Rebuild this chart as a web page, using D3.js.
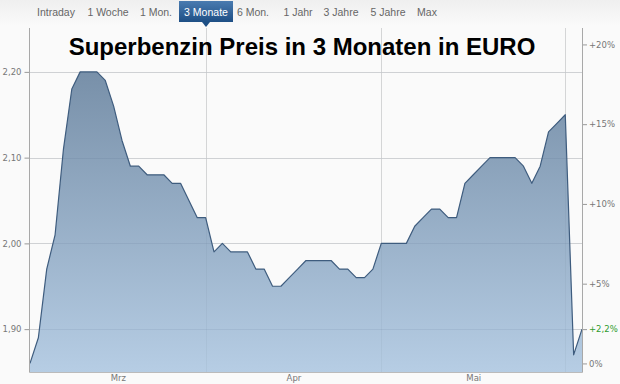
<!DOCTYPE html>
<html><head><meta charset="utf-8">
<script src="https://cdn.jsdelivr.net/npm/d3@7"></script>
<style>
html,body{margin:0;padding:0;background:#fff;}
svg{display:block;}
</style></head>
<body>
<svg id="chart" width="620" height="384"></svg>
<script>
// ---- data ----
const navItems = ["Intraday","1 Woche","1 Mon.","3 Monate","6 Mon.","1 Jahr","3 Jahre","5 Jahre","Max"];
const navActive = "3 Monate";
const prices = [1.86,1.89,1.97,2.01,2.11,2.18,2.20,2.20,2.20,2.19,2.16,2.12,2.09,2.09,2.08,2.08,2.08,2.07,2.07,2.05,2.03,2.03,1.99,2.00,1.99,1.99,1.99,1.97,1.97,1.95,1.95,1.96,1.97,1.98,1.98,1.98,1.98,1.97,1.97,1.96,1.96,1.97,2.00,2.00,2.00,2.00,2.02,2.03,2.04,2.04,2.03,2.03,2.07,2.08,2.09,2.10,2.10,2.10,2.10,2.09,2.07,2.09,2.13,2.14,2.15,1.87,1.90];
const leftTicks = [1.90, 2.00, 2.10, 2.20];
const pctTicks = [0, 5, 10, 15, 20];
const monthLabels = ["Mrz","Apr","Mai"];
const monthLabelPos = [10.5, 31.5, 53];   // index positions of labels
const monthGridPos = [21, 42, 64];        // index positions of month boundaries
const title = "Superbenzin Preis in 3 Monaten in EURO";

// ---- layout ----
const svg = d3.select("#chart");
const W = 620, H = 384;
const plot = {left: 29.5, right: 582, top: 28, bottom: 372};

const defs = svg.append("defs");
const bgGrad = defs.append("linearGradient").attr("id","navbg").attr("x1",0).attr("y1",0).attr("x2",0).attr("y2",1);
bgGrad.append("stop").attr("offset","0%").attr("stop-color","#efefef");
bgGrad.append("stop").attr("offset","100%").attr("stop-color","#fafafa");
const btnGrad = defs.append("linearGradient").attr("id","btn").attr("x1",0).attr("y1",0).attr("x2",0).attr("y2",1);
btnGrad.append("stop").attr("offset","0%").attr("stop-color","#4a7bb0");
btnGrad.append("stop").attr("offset","100%").attr("stop-color","#1e4f85");

svg.append("rect").attr("width",W).attr("height",H).attr("fill","#fafafa");
svg.append("rect").attr("width",W).attr("height",26).attr("fill","url(#navbg)");

// ---- scales ----
const x = d3.scaleLinear().domain([0, prices.length-1]).range([30, 582]);
const y = d3.scaleLinear().domain([1.85, 2.25]).range([plot.bottom, plot.top+1]);
const base = prices[0];
const yPct = d3.scaleLinear().domain([(1.85/base-1)*100, (2.25/base-1)*100]).range([plot.bottom, plot.top+1]);

const areaGrad = defs.append("linearGradient").attr("id","area")
  .attr("gradientUnits","userSpaceOnUse").attr("x1",0).attr("x2",0)
  .attr("y1", y(2.20)).attr("y2", plot.bottom);
areaGrad.append("stop").attr("offset","0%").attr("stop-color","#7890a9");
areaGrad.append("stop").attr("offset","100%").attr("stop-color","#b6cde4");

// ---- grid ----
const grid = svg.append("g");
grid.selectAll("line.h").data(leftTicks).join("line")
  .attr("x1", plot.left).attr("x2", plot.right)
  .attr("y1", d => Math.round(y(d))+0.5).attr("y2", d => Math.round(y(d))+0.5)
  .attr("stroke","#dedede");
grid.selectAll("line.v").data(monthGridPos).join("line")
  .attr("x1", d => Math.round(x(d))+0.5).attr("x2", d => Math.round(x(d))+0.5)
  .attr("y1", plot.top).attr("y2", plot.bottom)
  .attr("stroke","#dedede");

// ---- title ----
svg.append("text").attr("x", 302).attr("y", 55).attr("text-anchor","middle")
  .attr("font-family","Liberation Sans, Arial, sans-serif").attr("font-weight","bold")
  .attr("font-size", 24).attr("fill","#000").text(title);

// ---- area & line ----
const area = d3.area().x((d,i)=>x(i)).y0(plot.bottom).y1(d=>y(d));
const line = d3.line().x((d,i)=>x(i)).y(d=>y(d));
svg.append("path").datum(prices).attr("d", area).attr("fill","url(#area)");
// grid faintly visible through the fill
const grid2 = svg.append("g");
grid2.selectAll("line.h").data(leftTicks).join("line")
  .attr("x1", plot.left).attr("x2", plot.right)
  .attr("y1", d => Math.round(y(d))+0.5).attr("y2", d => Math.round(y(d))+0.5)
  .attr("stroke","rgba(60,80,110,0.09)");
grid2.selectAll("line.v").data(monthGridPos).join("line")
  .attr("x1", d => Math.round(x(d))+0.5).attr("x2", d => Math.round(x(d))+0.5)
  .attr("y1", plot.top).attr("y2", plot.bottom)
  .attr("stroke","rgba(60,80,110,0.06)");
svg.append("path").datum(prices).attr("d", line).attr("fill","none")
  .attr("stroke","#3e5c7e").attr("stroke-width",1.2).attr("stroke-linejoin","round");

// ---- axes ----
const fmtL = d3.format(".2f");
const leftAxis = d3.axisLeft(y).tickValues(leftTicks).tickSize(5).tickPadding(3)
  .tickFormat(d => fmtL(d).replace(".", ","));
const gL = svg.append("g").attr("transform", `translate(${plot.left},0)`).call(leftAxis);
gL.select(".domain").remove();
gL.selectAll("line").attr("stroke","#999");
gL.selectAll("text").attr("font-family","DejaVu Sans, Verdana, sans-serif").attr("font-size",8.5).attr("fill","#777");

const rightAxis = d3.axisRight(yPct).tickValues(pctTicks).tickSize(5).tickPadding(2)
  .tickFormat(d => d === 0 ? "0%" : "+" + d + "%");
const gR = svg.append("g").attr("transform", `translate(${plot.right},0)`).call(rightAxis);
gR.select(".domain").remove();
gR.selectAll("line").attr("stroke","#999");
gR.selectAll("text").attr("font-family","DejaVu Sans, Verdana, sans-serif").attr("font-size",8.5).attr("fill","#777");

// current-value marker on the right axis
const lastPct = (prices[prices.length-1]/base - 1)*100;
const gCur = svg.append("g").attr("transform", `translate(${plot.right},0)`)
  .call(d3.axisRight(yPct).tickValues([lastPct]).tickSize(5).tickPadding(2)
    .tickFormat(d => "+" + d3.format(".1f")(d).replace(".", ",") + "%"));
gCur.select(".domain").remove();
gCur.selectAll("line").attr("stroke","#999");
gCur.selectAll("text").attr("font-family","DejaVu Sans, Verdana, sans-serif").attr("font-size",8.5).attr("fill","#2e9a2e");

// frame lines
svg.append("line").attr("x1",plot.left).attr("x2",plot.left).attr("y1",plot.top).attr("y2",plot.bottom+0.5).attr("stroke","#a8a8a8");
svg.append("line").attr("x1",plot.right+0.5).attr("x2",plot.right+0.5).attr("y1",plot.top).attr("y2",plot.bottom+0.5).attr("stroke","#a8a8a8");
svg.append("line").attr("x1",plot.left).attr("x2",plot.right+0.5).attr("y1",plot.bottom+0.5).attr("y2",plot.bottom+0.5).attr("stroke","#bbb");

// month labels
const xAxis = d3.axisBottom(x).tickValues(monthLabelPos).tickSize(0).tickPadding(3)
  .tickFormat((d,i) => monthLabels[i]);
const gX = svg.append("g").attr("transform", `translate(0,${plot.bottom})`).call(xAxis);
gX.select(".domain").remove();
gX.selectAll("text").attr("font-family","DejaVu Sans, Verdana, sans-serif").attr("font-size",8.5).attr("fill","#777");

// ---- navigation bar ----
const navPos = [56, 108, 156, 206, 253, 298, 341, 388, 427];
const nav = svg.append("g");
const activeIdx = navItems.indexOf(navActive);
nav.append("rect").attr("x", 179).attr("y", 1).attr("width", 54).attr("height", 21).attr("fill","url(#btn)");
nav.append("path").attr("d", d3.line()([[navPos[activeIdx]-4,22],[navPos[activeIdx]+4,22],[navPos[activeIdx],27]])).attr("fill","#1e4f85");
nav.selectAll("text").data(navItems).join("text")
  .attr("x", (d,i)=>navPos[i]).attr("y", 16).attr("text-anchor","middle")
  .attr("font-family","Liberation Sans, Arial, sans-serif").attr("font-size",10.5)
  .attr("fill", d => d === navActive ? "#fff" : "#666").text(d=>d);
</script>
</body></html>
